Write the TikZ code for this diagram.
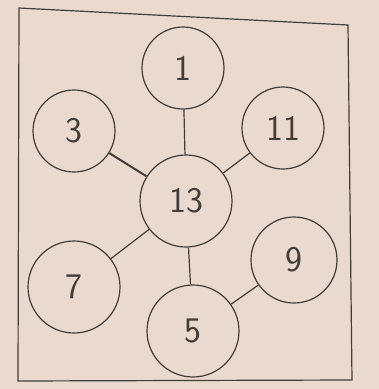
\documentclass[tikz,border=0pt]{standalone}
\usepackage{tikz}
\usetikzlibrary{positioning}

\definecolor{paper}{HTML}{E9D9CE}
\definecolor{pencil}{HTML}{433D39}

\begin{document}
\begin{tikzpicture}[
    x=1pt, y=-1pt,
    disc/.style={circle, draw=pencil, line width=1.2pt, fill=paper,
        inner sep=0pt, font=\sffamily\fontsize{36}{36}\selectfont,
        text=pencil},
    small/.style={disc, minimum size=82pt},
    big/.style={disc, minimum size=92pt},
    link/.style={draw=pencil, line width=1.2pt}
]
\fill[paper] (0,0) rectangle (379,389);
\useasboundingbox (0,0) rectangle (379,389);
\draw[pencil, line width=1.2pt] (19,8) -- (348,25) -- (352,380) -- (18,381) -- cycle;

\node[big] (hub) at (186,201) {13};
\node[small] (n1) at (183,68) {1};
\node[small] (n3) at (74,131) {3};
\node[small] (n11) at (283,128) {11};
\node[big] (n7) at (74,287) {7};
\node[small, minimum size=86pt] (n9) at (294,260) {9};
\node[big] (n5) at (193,331) {5};

\draw[link] (n1) -- (hub);
\draw[link, line width=2pt] (n3) -- (hub);
\draw[link] (n11) -- (hub);
\draw[link] (hub) -- (n7);
\draw[link] (hub) -- (n5);
\draw[link] (n9) -- (n5);
\end{tikzpicture}
\end{document}
